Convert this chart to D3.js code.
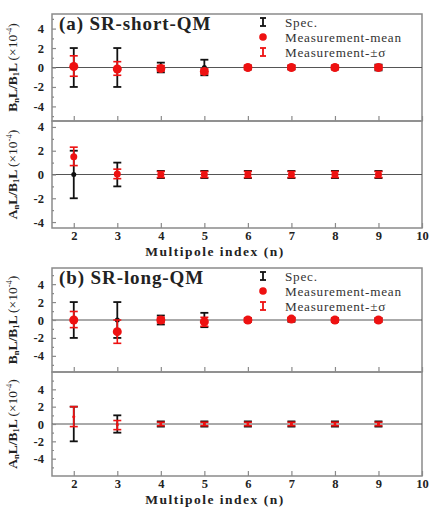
<!DOCTYPE html>
<html><head><meta charset="utf-8">
<script src="https://cdn.jsdelivr.net/npm/d3@7"></script>
<style>body{margin:0;background:#fff}svg{display:block}</style>
</head><body>
<script>
// ---- data ----
const nIdx = [2,3,4,5,6,7,8,9];
const xTicks = [2,3,4,5,6,7,8,9,10];
const yTicks = [-4,-2,0,2,4];
const titles = ["(a) SR-short-QM", "(b) SR-long-QM"];
const legendLabels = ["Spec.", "Measurement-mean", "Measurement-\u00b1\u03c3"];

const aBnSpec = [2,2,0.5,0.8,0.2,0.2,0.2,0.3];
const aBnMean = [0.1,-0.15,-0.1,-0.4,0,0,0,0];
const aBnLo   = [-0.9,-0.8,-0.35,-0.65,-0.2,-0.2,-0.2,-0.2];
const aBnHi   = [1.2,0.6,0.2,-0.15,0.2,0.2,0.2,0.2];

const aAnSpec = [2,1,0.3,0.3,0.3,0.3,0.3,0.3];
const aAnMean = [1.5,0.05,0,0,0,0,0,0];
const aAnLo   = [0.75,-0.35,-0.25,-0.25,-0.25,-0.25,-0.25,-0.25];
const aAnHi   = [2.3,0.45,0.25,0.25,0.25,0.25,0.25,0.25];

const bBnSpec = [2,2,0.5,0.8,0.2,0.2,0.2,0.2];
const bBnMean = [0,-1.3,0,-0.2,0,0.1,0,0];
const bBnLo   = [-0.85,-2.6,-0.3,-0.7,-0.2,-0.1,-0.2,-0.2];
const bBnHi   = [0.95,0,0.3,0.3,0.2,0.3,0.2,0.2];

const bAnSpec = [2,1,0.3,0.3,0.3,0.3,0.3,0.3];
const bAnMean = [0.85,-0.1,0,0,0,0,0,0];
const bAnLo   = [-0.3,-0.65,-0.2,-0.2,-0.2,-0.2,-0.2,-0.2];
const bAnHi   = [2,0.4,0.2,0.2,0.2,0.2,0.2,0.2];

// ---- layout ----
const W = 430, H = 508;
const FONT = "'Liberation Serif','Times New Roman',Times,serif";
const svg = d3.select("body").append("svg").attr("width", W).attr("height", H)
  .style("font-family", FONT);

const x = d3.scaleLinear().domain([1.5, 10]).range([52, 422]);

const panels = [
  {top:14, bottom:121, dom:5.5, kind:"B", spec:aBnSpec, mean:aBnMean, lo:aBnLo, hi:aBnHi, r:4.5, dot:true, title:titles[0], legend:true},
  {top:121, bottom:228, dom:4.5, kind:"A", spec:aAnSpec, mean:aAnMean, lo:aAnLo, hi:aAnHi, r:3.5, dot:true, xlab:true},
  {top:268, bottom:372, dom:5.8, kind:"B", spec:bBnSpec, mean:bBnMean, lo:bBnLo, hi:bBnHi, r:4.5, dot:true, title:titles[1], legend:true},
  {top:372, bottom:476, dom:6, kind:"A", spec:bAnSpec, mean:bAnMean, lo:bAnLo, hi:bAnHi, r:1.5, dot:false, xlab:true}
];

const frameColor = "#8a8a8a";
const red = "#ee1111";

panels.forEach(p => {
  const y = d3.scaleLinear().domain([-p.dom, p.dom]).range([p.bottom, p.top]);
  const g = svg.append("g");
  g.append("rect").attr("x", x.range()[0]).attr("y", p.top)
    .attr("width", x.range()[1]-x.range()[0]).attr("height", p.bottom-p.top)
    .attr("fill","none").attr("stroke",frameColor).attr("stroke-width",1.5);
  g.append("line").attr("x1", x.range()[0]).attr("x2", x.range()[1])
    .attr("y1", y(0)).attr("y2", y(0)).attr("stroke","#555").attr("stroke-width",1);

  const ya = g.append("g").attr("transform", `translate(${x.range()[0]},0)`)
    .call(d3.axisLeft(y).tickValues(yTicks).tickSize(-4).tickPadding(8)
      .tickFormat(d => d < 0 ? "-" + Math.abs(d) : d));
  ya.select(".domain").remove();
  ya.selectAll("line").attr("stroke", frameColor).attr("stroke-width",1.2);
  ya.selectAll("text").attr("font-size",12.5).attr("font-weight","bold")
    .attr("font-family",FONT).attr("fill","#222");
  const ym = g.append("g").attr("transform", `translate(${x.range()[0]},0)`)
    .call(d3.axisLeft(y).tickValues([-5,-3,-1,1,3,5].filter(v => Math.abs(v) <= p.dom)).tickSize(-2).tickFormat(""));
  ym.select(".domain").remove();
  ym.selectAll("line").attr("stroke", frameColor).attr("stroke-width",1.2);

  const xa = g.append("g").attr("transform", `translate(0,${p.bottom})`)
    .call(d3.axisBottom(x).tickValues(xTicks).tickSize(-5).tickPadding(3).tickFormat(p.xlab ? d3.format("d") : ""));
  xa.select(".domain").remove();
  xa.selectAll("line").attr("stroke", frameColor).attr("stroke-width",1.2);
  xa.selectAll("text").attr("font-size",12.5).attr("font-weight","bold")
    .attr("font-family",FONT).attr("fill","#222");
  if (p.xlab) {
    g.append("text").attr("x", 215).attr("y", p.bottom + 27.5).attr("text-anchor","middle")
      .attr("font-size",13.5).attr("font-weight","bold").attr("letter-spacing",1.5).attr("fill","#222")
      .text("Multipole index (n)");
  }

  const lab = g.append("text").attr("transform", `translate(17,${(p.top+p.bottom)/2}) rotate(-90)`)
    .attr("text-anchor","middle").attr("font-size",13.5).attr("fill","#222");
  lab.append("tspan").attr("font-weight","bold").text(p.kind);
  lab.append("tspan").attr("font-weight","bold").attr("font-size",8.5).attr("dy",2).text("n");
  lab.append("tspan").attr("font-weight","bold").attr("dy",-2).text("L/B");
  lab.append("tspan").attr("font-weight","bold").attr("font-size",8.5).attr("dy",2).text("1");
  lab.append("tspan").attr("font-weight","bold").attr("dy",-2).text("L ");
  lab.append("tspan").text("(\u00d710");
  lab.append("tspan").attr("font-size",8.5).attr("dy",-5).text("-4");
  lab.append("tspan").attr("dy",5).text(")");

  const rows = nIdx.map((n,i) => ({n, spec:p.spec[i], mean:p.mean[i], lo:p.lo[i], hi:p.hi[i]}));
  const cap = 4;
  const sg = g.append("g").attr("stroke","#111").attr("stroke-width",1.8);
  rows.forEach(d => {
    const cx = x(d.n);
    sg.append("line").attr("x1",cx).attr("x2",cx).attr("y1",y(-d.spec)).attr("y2",y(d.spec));
    sg.append("line").attr("x1",cx-cap).attr("x2",cx+cap).attr("y1",y(-d.spec)).attr("y2",y(-d.spec));
    sg.append("line").attr("x1",cx-cap).attr("x2",cx+cap).attr("y1",y(d.spec)).attr("y2",y(d.spec));
    if (p.dot) g.append("circle").attr("cx",cx).attr("cy",y(0)).attr("r",2.5).attr("fill","#111");
  });
  const rg = g.append("g").attr("stroke",red).attr("stroke-width",1.6);
  rows.forEach(d => {
    const cx = x(d.n);
    rg.append("line").attr("x1",cx).attr("x2",cx).attr("y1",y(d.lo)).attr("y2",y(d.hi));
    rg.append("line").attr("x1",cx-cap).attr("x2",cx+cap).attr("y1",y(d.lo)).attr("y2",y(d.lo));
    rg.append("line").attr("x1",cx-cap).attr("x2",cx+cap).attr("y1",y(d.hi)).attr("y2",y(d.hi));
  });
  g.selectAll("circle.mean").data(rows).enter().append("circle").attr("class","mean")
    .attr("cx", d => x(d.n)).attr("cy", d => y(d.mean)).attr("r", p.r).attr("fill", red);

  if (p.title) {
    g.append("text").attr("x", 59).attr("y", p.top + 16).attr("font-size",19)
      .attr("letter-spacing",0.9).attr("font-weight","bold").attr("fill","#222").text(p.title);
  }
  if (p.legend) {
    const lx = 263, tx = 285;
    const ys = [p.top + 8, p.top + 23, p.top + 38];
    const s = g.append("g").attr("stroke","#111").attr("stroke-width",1.8);
    s.append("line").attr("x1",lx).attr("x2",lx).attr("y1",ys[0]-4).attr("y2",ys[0]+4);
    s.append("line").attr("x1",lx-3).attr("x2",lx+3).attr("y1",ys[0]-4).attr("y2",ys[0]-4);
    s.append("line").attr("x1",lx-3).attr("x2",lx+3).attr("y1",ys[0]+4).attr("y2",ys[0]+4);
    g.append("circle").attr("cx",lx).attr("cy",ys[1]).attr("r",3.8).attr("fill",red);
    const m = g.append("g").attr("stroke",red).attr("stroke-width",1.8);
    m.append("line").attr("x1",lx).attr("x2",lx).attr("y1",ys[2]-4).attr("y2",ys[2]+4);
    m.append("line").attr("x1",lx-3).attr("x2",lx+3).attr("y1",ys[2]-4).attr("y2",ys[2]-4);
    m.append("line").attr("x1",lx-3).attr("x2",lx+3).attr("y1",ys[2]+4).attr("y2",ys[2]+4);
    legendLabels.forEach((t,i) => {
      g.append("text").attr("x",tx).attr("y",ys[i]+4.5).attr("font-size",13.2)
        .attr("letter-spacing",0.75).attr("fill","#333").text(t);
    });
  }
});
</script>
</body></html>
